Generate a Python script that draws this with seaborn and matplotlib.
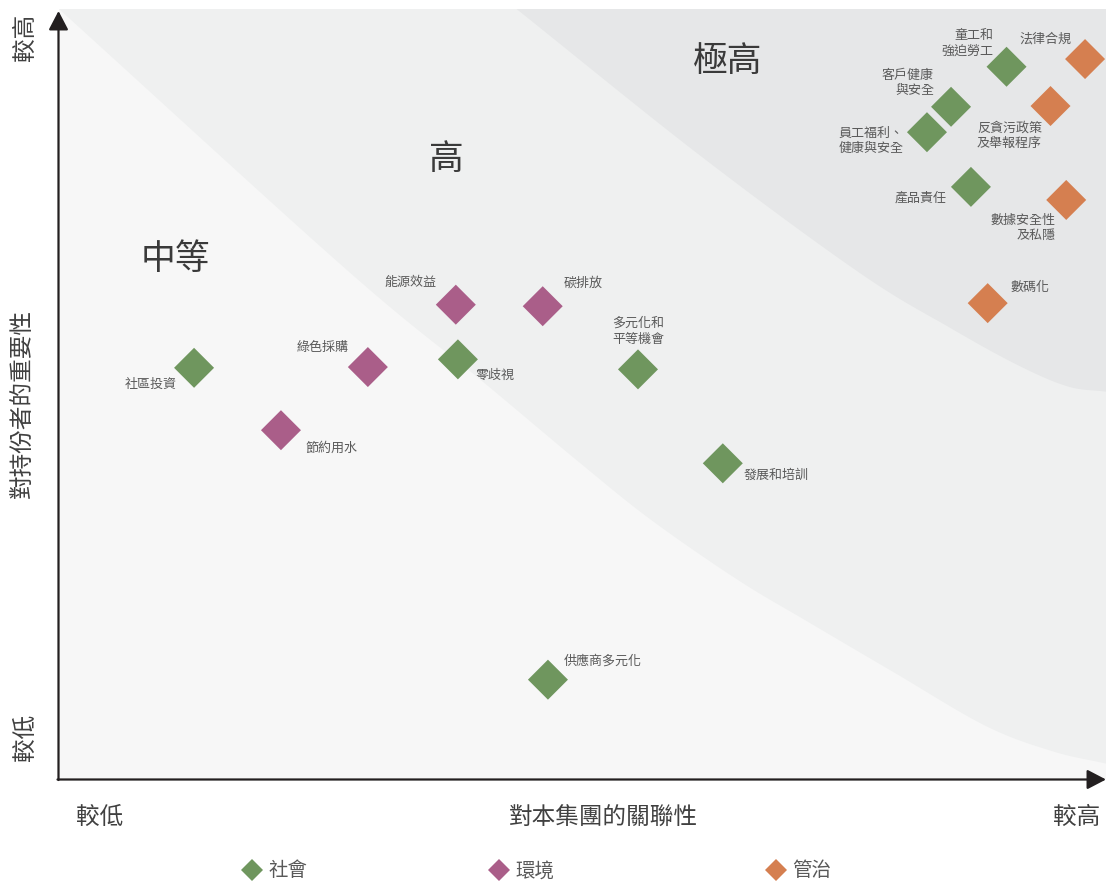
import numpy as np
import pandas as pd
import matplotlib
matplotlib.use("Agg")
import matplotlib.pyplot as plt
import seaborn as sns
from matplotlib.lines import Line2D

# ---------------- data ----------------
topics = ["社區投資", "零歧視", "多元化和\n平等機會", "發展和培訓", "供應商多元化",
          "童工和\n強迫勞工", "客戶健康\n與安全", "員工福利、\n健康與安全", "產品責任",
          "能源效益", "碳排放", "綠色採購", "節約用水",
          "法律合規", "反貪污政策\n及舉報程序", "數據安全性\n及私隱", "數碼化"]
relevance = [12.9, 38.1, 55.3, 63.4, 46.7,
             90.5, 85.2, 82.9, 87.1,
             37.9, 46.2, 29.5, 21.2,
             98.0, 94.7, 96.2, 88.7]
importance = [53.4, 54.5, 53.2, 41.0, 12.9,
              92.5, 87.3, 84.0, 76.9,
              61.6, 61.4, 53.5, 45.3,
              93.5, 87.4, 75.2, 61.8]
pillar = ["社會"] * 9 + ["環境"] * 4 + ["管治"] * 4

pillar_names = ["社會", "環境", "管治"]
pillar_colors = ["#6f965e", "#aa5e89", "#d57f50"]

region_names = ["中等", "高", "極高"]
x_end_labels = ["較低", "對本集團的關聯性", "較高"]
y_end_labels = ["較低", "對持份者的重要性", "較高"]

# band boundaries (in axis units 0-100)
boundary_low = [(0, 100), (27.5, 66.1), (40.3, 51.8), (49.8, 41.0), (56.6, 33.6),
                (64.9, 25.8), (71.3, 20.6), (79.8, 13.8), (88.5, 6.9), (94.9, 3.6), (100, 2.0)]
boundary_high = [(43.7, 100), (61.2, 81.0), (76.5, 65.7), (85.1, 58.6), (91.5, 53.8),
                 (96.3, 51.0), (100, 50.3)]

# label placement: (dx px, dy px up, ha)
label_pos = {
    "社區投資": (-17, -17, "right"),
    "零歧視": (18, -16, "left"),
    "多元化和\n平等機會": (0, 38, "center"),
    "發展和培訓": (21, -12, "left"),
    "供應商多元化": (16, 19, "left"),
    "童工和\n強迫勞工": (-13, 23, "right"),
    "客戶健康\n與安全": (-17, 24, "right"),
    "員工福利、\n健康與安全": (-23, -9, "right"),
    "產品責任": (-24, -11, "right"),
    "能源效益": (-19, 22, "right"),
    "碳排放": (21, 23, "left"),
    "綠色採購": (-19, 20, "right"),
    "節約用水": (24, -18, "left"),
    "法律合規": (-14, 20, "right"),
    "反貪污政策\n及舉報程序": (-41, -30, "center"),
    "數據安全性\n及私隱": (-11, -28, "right"),
    "數碼化": (23, 16, "left"),
}


def smooth(pts, n=40):
    pts = np.asarray(pts, float)
    P = np.vstack([2 * pts[0] - pts[1], pts, 2 * pts[-1] - pts[-2]])
    out = []
    t = np.linspace(0, 1, n, endpoint=False)[:, None]
    for i in range(1, len(P) - 2):
        p0, p1, p2, p3 = P[i - 1], P[i], P[i + 1], P[i + 2]
        out.append(0.5 * ((2 * p1) + (-p0 + p2) * t + (2 * p0 - 5 * p1 + 4 * p2 - p3) * t ** 2
                          + (-p0 + 3 * p1 - 3 * p2 + p3) * t ** 3))
    out.append(pts[-1][None])
    return np.vstack(out)


sns.set_theme(style="white")
plt.rcParams['font.family'] = ['Noto Sans CJK TC', 'DejaVu Sans']

W, H = 1106, 883
fig = plt.figure(figsize=(W / 100, H / 100), dpi=100)
fig.patch.set_facecolor("white")
ax = fig.add_axes([59 / W, 104 / H, 1047 / W, 770 / H])
ax.set_xlim(0, 100)
ax.set_ylim(0, 100)
ax.set_facecolor("#f7f7f7")

A = smooth(boundary_low)
ax.fill(np.r_[A[:, 0], 100], np.r_[A[:, 1], 100], color="#eff0f0", lw=0, zorder=0)
B = smooth(boundary_high)
ax.fill(np.r_[B[:, 0], 100], np.r_[B[:, 1], 100], color="#e6e7e8", lw=0, zorder=0)

df = pd.DataFrame({"topic": topics, "x": relevance, "y": importance, "pillar": pillar})
sns.scatterplot(data=df, x="x", y="y", hue="pillar", hue_order=pillar_names,
                palette=pillar_colors, marker="D", s=415, linewidth=0,
                legend=False, ax=ax, zorder=3, clip_on=False)

for t, xv, yv in zip(topics, relevance, importance):
    dx, dy, ha = label_pos[t]
    ax.annotate(t, xy=(xv, yv), xytext=(dx * 0.72, dy * 0.72), textcoords="offset points",
                ha=ha, va="center", fontsize=9.4, color="#5a5a5a", linespacing=1.25,
                zorder=4)

ax.set_xticks([])
ax.set_yticks([])
ax.set_xlabel("")
ax.set_ylabel("")
for s in ax.spines.values():
    s.set_visible(False)

# axis arrows
arrow_kw = dict(arrowstyle="-|>,head_length=1.15,head_width=0.6", lw=1.6,
                color="#231f20", shrinkA=0, shrinkB=0)
fig.add_artist(matplotlib.patches.FancyArrowPatch((58.5, 883 - 780), (58.5, 883 - 11),
               transform=None, mutation_scale=10, **arrow_kw))
fig.add_artist(matplotlib.patches.FancyArrowPatch((57.5, 883 - 779.5), (1106, 883 - 779.5),
               transform=None, mutation_scale=10, **arrow_kw))

# region names
for name, (px, py) in zip(region_names, [(175, 259), (446, 160), (728, 62)]):
    fig.text(px / W, 1 - py / H, name, ha="center", va="center", fontsize=25,
             color="#3a3a3a", fontweight="light")

# axis end labels
for name, (px, py) in zip(x_end_labels, [(100, 817), (603, 818), (1077, 817)]):
    fig.text(px / W, 1 - py / H, name, ha="center", va="center", fontsize=17,
             color="#404040", fontweight="light")
for name, (px, py) in zip(y_end_labels, [(25, 737), (22, 404), (25, 37)]):
    fig.text(px / W, 1 - py / H, name, ha="center", va="center", fontsize=17,
             color="#404040", rotation=90, fontweight="light")

# legend: one entry each, placed like the reference
for name, c, px in zip(pillar_names, pillar_colors, [242.3, 489.3, 766.3]):
    h = Line2D([], [], marker="D", ls="", color=c, markersize=11, mew=0)
    leg = fig.legend([h], [name], loc="center left", bbox_to_anchor=(px / W, 1 - 871 / H),
                     frameon=False, fontsize=14, handletextpad=0.33,
                     handlelength=1.0, borderpad=0, borderaxespad=0)
    for txt in leg.get_texts():
        txt.set_color("#595959")

fig.savefig("out.png", dpi=100)
